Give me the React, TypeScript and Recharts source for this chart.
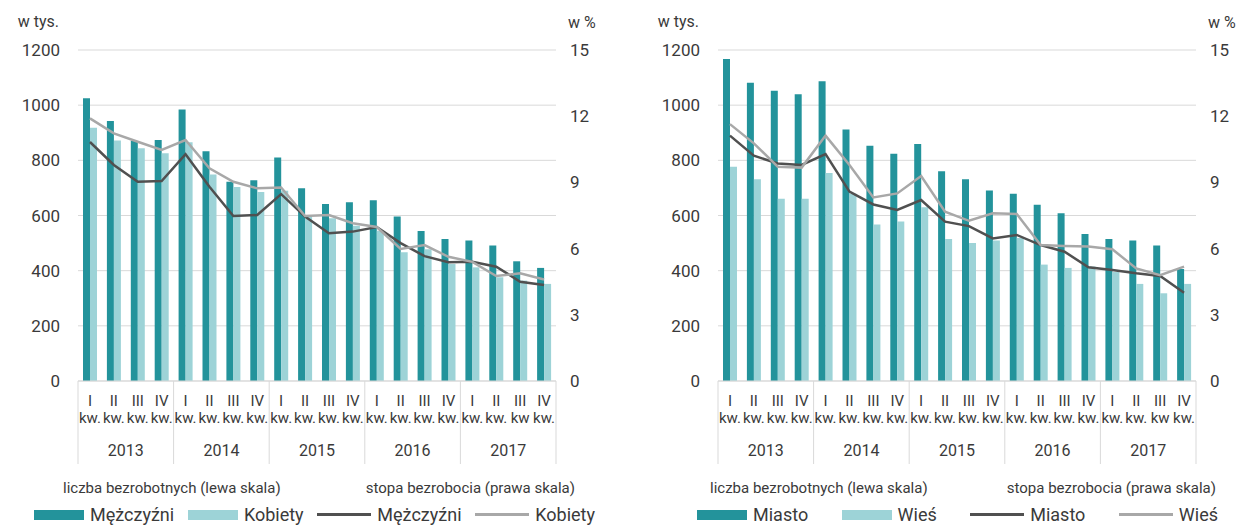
import { ComposedChart, Bar, Line, XAxis, YAxis, CartesianGrid } from "recharts";

const QUARTERS = ["I", "II", "III", "IV"];
const YEARS = ["2013", "2014", "2015", "2016", "2017"];
// bottom line of the quarter labels (III kw. 2017 is cut to "kw" in the source)
const KW = Array.from({ length: 20 }, (_, i) => (i === 18 ? "kw" : "kw."));

// left panel: by sex
const menCount = [1025, 943, 870, 874, 984, 833, 722, 728, 810, 699, 642, 648, 655, 596, 544, 515, 509, 491, 434, 410];
const womenCount = [918, 872, 844, 826, 866, 749, 703, 685, 690, 600, 590, 563, 545, 467, 478, 424, 412, 376, 364, 352];
const menRate = [10.83, 9.79, 9.03, 9.06, 10.28, 8.8, 7.48, 7.52, 8.47, 7.45, 6.7, 6.77, 6.98, 6.25, 5.66, 5.38, 5.4, 5.18, 4.5, 4.35];
const womenRate = [11.9, 11.22, 10.84, 10.47, 10.92, 9.64, 9.03, 8.73, 8.77, 7.48, 7.52, 7.15, 6.98, 5.98, 6.16, 5.63, 5.4, 4.76, 4.88, 4.6];

// right panel: by place of residence
const cityCount = [1167, 1081, 1052, 1040, 1087, 912, 853, 824, 859, 760, 731, 691, 679, 639, 608, 533, 515, 509, 491, 406];
const villageCount = [777, 731, 661, 661, 754, 679, 567, 578, 630, 515, 500, 509, 518, 422, 410, 415, 395, 352, 318, 352];
const cityRate = [11.12, 10.21, 9.86, 9.79, 10.28, 8.58, 8.0, 7.75, 8.2, 7.22, 7.02, 6.46, 6.62, 6.16, 5.86, 5.15, 5.03, 4.88, 4.76, 4.0];
const villageRate = [11.64, 10.77, 9.71, 9.67, 11.12, 9.79, 8.32, 8.5, 9.29, 7.67, 7.26, 7.6, 7.57, 6.16, 6.12, 6.09, 5.97, 5.1, 4.8, 5.18];

const countTicks = [0, 200, 400, 600, 800, 1000, 1200];
const rateTicks = [0, 3, 6, 9, 12, 15];

const DARK_BAR = "#23939b";
const LIGHT_BAR = "#9dd3d7";
const DARK_LINE = "#505050";
const LIGHT_LINE = "#a8a8a8";
const GRID = "#d9d9d9";
const TEXT = "#3a3a3a";
const FONT = "Roboto, 'Noto Sans', sans-serif";

const PLOT_W = 478;
const PLOT_H = 331;
const BAND = PLOT_W / 20;

function QuarterTick(props: any) {
  const { x, y, index, payload } = props;
  const i = index ?? payload?.index ?? 0;
  return (
    <g>
      <text x={x} y={y + 25} textAnchor="middle" fontSize={15} fill={TEXT} fontFamily={FONT}>
        {QUARTERS[i % 4]}
      </text>
      <text x={x} y={y + 42} textAnchor="middle" fontSize={15} fill={TEXT} fontFamily={FONT}>
        {KW[i]}
      </text>
      {i % 4 === 0 && <line x1={x - BAND / 2} x2={x - BAND / 2} y1={y} y2={y + 83} stroke={GRID} />}
      {i === 19 && <line x1={x + BAND / 2} x2={x + BAND / 2} y1={y} y2={y + 83} stroke={GRID} />}
      {i % 4 === 1 && (
        <text x={x + BAND / 2} y={y + 75} textAnchor="middle" fontSize={16} fill={TEXT} fontFamily={FONT}>
          {YEARS[Math.floor(i / 4)]}
        </text>
      )}
    </g>
  );
}

interface Series {
  name: string;
  color: string;
  values: number[];
}

interface PanelProps {
  bars: Series[];
  lines: Series[];
  leftAxisW: number;
  width: number;
  titleBox: [number, number];
  itemBox: [number, number];
}

function Swatch({ kind, color }: { kind: "bar" | "line"; color: string }) {
  if (kind === "bar") return <span style={{ display: "inline-block", width: 50, height: 10, background: color }} />;
  return <span style={{ display: "inline-block", width: 54, height: 3, background: color }} />;
}

function Panel({ bars, lines, leftAxisW, width, titleBox, itemBox }: PanelProps) {
  const data = bars[0].values.map((_, i) => ({
    key: `${YEARS[Math.floor(i / 4)]}-${QUARTERS[i % 4]}`,
    b0: bars[0].values[i],
    b1: bars[1].values[i],
    l0: lines[0].values[i],
    l1: lines[1].values[i],
  }));
  const marginRight = width - leftAxisW - PLOT_W - 40;
  const items = [
    ...bars.map((s) => ({ kind: "bar" as const, ...s })),
    ...lines.map((s) => ({ kind: "line" as const, ...s })),
  ];

  return (
    <div style={{ position: "relative", width, height: 527, overflow: "hidden" }}>
      <ComposedChart
        width={width}
        height={50 + PLOT_H + 97}
        data={data}
        margin={{ top: 50, right: marginRight, bottom: 0, left: 0 }}
        barGap={0}
      >
        <CartesianGrid yAxisId="left" vertical={false} stroke={GRID} />
        <XAxis
          dataKey="key"
          interval={0}
          height={97}
          tickLine={false}
          tickSize={0}
          tickMargin={0}
          axisLine={{ stroke: GRID }}
          tick={(p: any) => <QuarterTick {...p} />}
        />
        <YAxis
          yAxisId="left"
          width={leftAxisW}
          domain={[0, 1200]}
          ticks={countTicks}
          tickLine={false}
          axisLine={false}
          tickSize={0}
          tickMargin={18}
          tick={{ fontSize: 17, fill: TEXT, fontFamily: FONT }}
          label={{
            content: (p: any) => (
              <text
                x={p.viewBox.x + p.viewBox.width - 19}
                y={p.viewBox.y - 23}
                textAnchor="end"
                fontSize={16}
                fill={TEXT}
                fontFamily={FONT}
              >
                w tys.
              </text>
            ),
          }}
        />
        <YAxis
          yAxisId="right"
          orientation="right"
          width={40}
          domain={[0, 15]}
          ticks={rateTicks}
          tickLine={false}
          axisLine={false}
          tickSize={0}
          tickMargin={14}
          tick={{ fontSize: 17, fill: TEXT, fontFamily: FONT, textAnchor: "start" }}
          label={{
            content: (p: any) => (
              <text x={p.viewBox.x + 12} y={p.viewBox.y - 22} textAnchor="start" fontSize={16} fill={TEXT} fontFamily={FONT}>
                w %
              </text>
            ),
          }}
        />
        <Bar yAxisId="left" dataKey="b0" name={bars[0].name} fill={bars[0].color} barSize={7} isAnimationActive={false} />
        <Bar yAxisId="left" dataKey="b1" name={bars[1].name} fill={bars[1].color} barSize={7} isAnimationActive={false} />
        <Line yAxisId="right" dataKey="l0" name={lines[0].name} stroke={lines[0].color} strokeWidth={2.5} dot={false} type="linear" isAnimationActive={false} />
        <Line yAxisId="right" dataKey="l1" name={lines[1].name} stroke={lines[1].color} strokeWidth={2.5} dot={false} type="linear" isAnimationActive={false} />
      </ComposedChart>

      <div
        style={{
          position: "absolute",
          left: titleBox[0],
          width: titleBox[1] - titleBox[0],
          top: 479,
          display: "flex",
          justifyContent: "space-between",
          fontSize: 15,
          lineHeight: "18px",
          color: TEXT,
          fontFamily: FONT,
          whiteSpace: "nowrap",
        }}
      >
        <span>liczba bezrobotnych (lewa skala)</span>
        <span>stopa bezrobocia (prawa skala)</span>
      </div>
      <div
        style={{
          position: "absolute",
          left: itemBox[0],
          width: itemBox[1] - itemBox[0],
          top: 504,
          display: "flex",
          justifyContent: "space-between",
          alignItems: "center",
          fontSize: 18,
          lineHeight: "21px",
          color: TEXT,
          fontFamily: FONT,
          whiteSpace: "nowrap",
        }}
      >
        {items.map((it, k) => (
          <span key={k} style={{ display: "inline-flex", alignItems: "center", gap: 6 }}>
            <Swatch kind={it.kind} color={it.color} />
            <span>{it.name}</span>
          </span>
        ))}
      </div>
    </div>
  );
}

export default function App() {
  return (
    <div style={{ display: "flex", width: 1245, height: 527, background: "#fff", fontFamily: FONT }}>
      <style>{`body{margin:0;overflow:hidden;}`}</style>
      <Panel
        width={648}
        leftAxisW={78}
        bars={[
          { name: "Mężczyźni", color: DARK_BAR, values: menCount },
          { name: "Kobiety", color: LIGHT_BAR, values: womenCount },
        ]}
        lines={[
          { name: "Mężczyźni", color: DARK_LINE, values: menRate },
          { name: "Kobiety", color: LIGHT_LINE, values: womenRate },
        ]}
        titleBox={[63, 575]}
        itemBox={[34, 595]}
      />
      <Panel
        width={597}
        leftAxisW={70}
        bars={[
          { name: "Miasto", color: DARK_BAR, values: cityCount },
          { name: "Wieś", color: LIGHT_BAR, values: villageCount },
        ]}
        lines={[
          { name: "Miasto", color: DARK_LINE, values: cityRate },
          { name: "Wieś", color: LIGHT_LINE, values: villageRate },
        ]}
        titleBox={[62, 568]}
        itemBox={[49, 570]}
      />
    </div>
  );
}
